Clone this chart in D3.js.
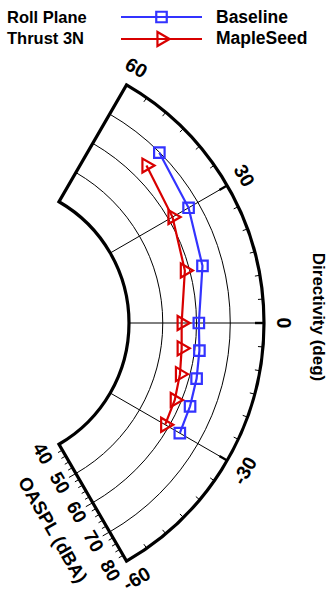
<!DOCTYPE html>
<html><head><meta charset="utf-8">
<script src="https://cdn.jsdelivr.net/npm/d3@7"></script>
<style>body{margin:0;background:#fff} svg{display:block}</style>
</head><body>
<script>
const angles = [45, 30, 15, 0, -7.5, -15, -22.5, -30];
const baseline = [69.9, 66.8, 64.0, 60.7, 61.4, 62.2, 63.0, 63.8];
const mapleSeed = [64.5, 61.3, 58.6, 55.6, 56.1, 57.1, 58.1, 58.8];
const angleTicks = [60, 30, 0, -30, -60];
const radialTicks = [40, 50, 60, 70, 80];
const seriesNames = ["Baseline", "MapleSeed"];
const legendTitle = ["Roll Plane", "Thrust 3N"];
const angleTitle = "Directivity (deg)";
const radialTitle = "OASPL (dBA)";

const W = 327, H = 594, cx = -11, cy = 323;
const FONT = "'Liberation Sans', Arial, sans-serif";
const BLUE = "#3333ff", RED = "#d80000";
const r = d3.scaleLinear().domain([40, 80]).range([140, 275]);
// d3 radial angle: clockwise from 12 o'clock
const a = d3.scaleLinear().domain([-60, 60]).range([150 * Math.PI / 180, 30 * Math.PI / 180]);
const R0 = r(40), R1 = r(80);
const pt = (t, rad) => [cx + rad * Math.sin(a(t)), cy - rad * Math.cos(a(t))];

const svg = d3.select("body").append("svg").attr("width", W).attr("height", H);
const g = svg.append("g");

// grid arcs
const arcPath = rad => { const p = d3.path(); const s = pt(60, rad); p.moveTo(s[0], s[1]); p.arc(cx, cy, rad, -Math.PI / 3, Math.PI / 3); return p.toString(); };
g.selectAll(".garc").data(radialTicks.slice(1, -1)).join("path")
  .attr("d", d => arcPath(r(d))).attr("fill", "none").attr("stroke", "#000").attr("stroke-width", 1);

// radial grid lines
g.selectAll(".gline").data(angleTicks.slice(1, -1)).join("line")
  .attr("x1", d => pt(d, R0)[0]).attr("y1", d => pt(d, R0)[1])
  .attr("x2", d => pt(d, R1)[0]).attr("y2", d => pt(d, R1)[1])
  .attr("stroke", "#000").attr("stroke-width", 1);

// outer arc ticks every 5 deg
const minorAng = d3.range(-55, 60, 5);
g.selectAll(".atick").data(minorAng).join("line")
  .attr("x1", d => pt(d, R1)[0]).attr("y1", d => pt(d, R1)[1])
  .attr("x2", d => pt(d, R1 - (d % 30 === 0 ? 9 : 5))[0]).attr("y2", d => pt(d, R1 - (d % 30 === 0 ? 9 : 5))[1])
  .attr("stroke", "#000").attr("stroke-width", d => d % 30 === 0 ? 2.4 : 1);

// radial ticks along -60 edge (outward, lower-left)
const nrm = [-Math.sqrt(3) / 2, 0.5];
const rTicks = d3.range(42, 80, 2);
g.selectAll(".rtick").data(rTicks).join("line")
  .attr("x1", d => pt(-60, r(d))[0]).attr("y1", d => pt(-60, r(d))[1])
  .attr("x2", d => pt(-60, r(d))[0] + nrm[0] * (d % 10 === 0 ? 8 : 5))
  .attr("y2", d => pt(-60, r(d))[1] + nrm[1] * (d % 10 === 0 ? 8 : 5))
  .attr("stroke", "#000").attr("stroke-width", 1);

// frame
(function () {
  const p = d3.path();
  const s = pt(60, R1); p.moveTo(s[0], s[1]);
  p.arc(cx, cy, R1, -Math.PI / 3, Math.PI / 3);
  const e = pt(-60, R0); p.lineTo(e[0], e[1]);
  p.arc(cx, cy, R0, Math.PI / 3, -Math.PI / 3, true);
  p.closePath();
  g.append("path").attr("d", p.toString()).attr("fill", "none").attr("stroke", "#000")
    .attr("stroke-width", 3.2).attr("stroke-linejoin", "miter");
})();

// angle labels
g.selectAll(".alab").data(angleTicks).join("text")
  .attr("transform", d => { const q = pt(d, 295); const rot = d >= 0 ? 90 - d : -90 - d; return `translate(${q[0]},${q[1]}) rotate(${rot})`; })
  .attr("text-anchor", "middle").attr("dominant-baseline", "central")
  .attr("font-family", FONT).attr("font-weight", "bold").attr("font-size", 19.5).text(d => d);

// radial labels
g.selectAll(".rlab").data(radialTicks).join("text")
  .attr("transform", d => { const q = pt(-60, r(d)); return `translate(${q[0] + nrm[0] * 18.5},${q[1] + nrm[1] * 18.5}) rotate(60)`; })
  .attr("text-anchor", "middle").attr("dominant-baseline", "central")
  .attr("font-family", FONT).attr("font-weight", "bold").attr("font-size", 19).text(d => d);

// titles
(function () {
  const q = pt(-60, 211);
  g.append("text").attr("transform", `translate(${q[0] + nrm[0] * 48},${q[1] + nrm[1] * 48}) rotate(60)`)
    .attr("text-anchor", "middle").attr("dominant-baseline", "central")
    .attr("font-family", FONT).attr("font-weight", "bold").attr("font-size", 18.5).text(radialTitle);
  g.append("text").attr("transform", `translate(318,317) rotate(90)`)
    .attr("text-anchor", "middle").attr("dominant-baseline", "central")
    .attr("font-family", FONT).attr("font-weight", "bold").attr("font-size", 17).text(angleTitle);
})();

// series
const series = [
  { name: seriesNames[0], vals: baseline, color: BLUE, sym: d3.symbolSquare, size: 110, rot: 0 },
  { name: seriesNames[1], vals: mapleSeed, color: RED, sym: d3.symbolTriangle, size: 85, rot: 90 }
];
const line = d3.lineRadial().angle(d => a(d.t)).radius(d => r(d.v));
series.forEach(s => {
  const data = angles.map((t, i) => ({ t, v: s.vals[i] }));
  const sg = g.append("g");
  sg.append("path").attr("transform", `translate(${cx},${cy})`).attr("d", line(data))
    .attr("fill", "none").attr("stroke", s.color).attr("stroke-width", 2.2);
  sg.selectAll("path.m").data(data).join("path").attr("class", "m")
    .attr("transform", d => { const q = pt(d.t, r(d.v)); return `translate(${q[0]},${q[1]}) rotate(${s.rot})`; })
    .attr("d", d3.symbol(s.sym, s.size)).attr("fill", "none").attr("stroke", s.color).attr("stroke-width", 2.2);
});

// legend
const lg = svg.append("g").attr("font-family", FONT).attr("font-weight", "bold");
legendTitle.forEach((t, i) => lg.append("text").attr("x", 7).attr("y", 23 + i * 21).attr("font-size", 16.5).text(t));
series.forEach((s, i) => {
  const y = 17 + i * 22;
  lg.append("line").attr("x1", 121).attr("x2", 202).attr("y1", y).attr("y2", y).attr("stroke", s.color).attr("stroke-width", 2.2);
  lg.append("path").attr("transform", `translate(161.5,${y}) rotate(${s.rot})`).attr("d", d3.symbol(s.sym, s.size))
    .attr("fill", "none").attr("stroke", s.color).attr("stroke-width", 2.2);
  lg.append("text").attr("x", 216).attr("y", 23 + i * 21).attr("font-size", 17.5).text(s.name);
});
</script>
</body></html>
